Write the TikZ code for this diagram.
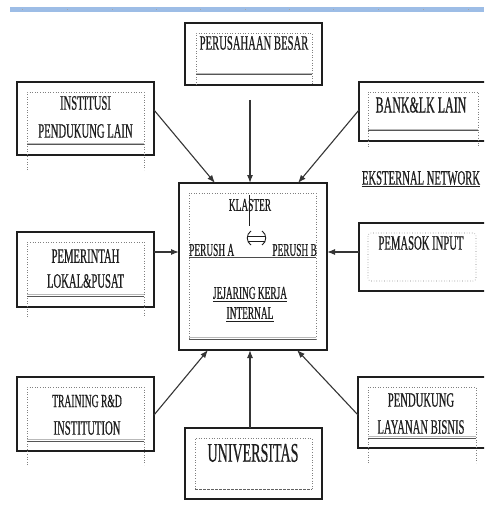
\documentclass[tikz,border=0pt]{standalone}
\usepackage{fontspec}
\setmainfont{Liberation Serif}
\newfontfamily\cf[FakeStretch=0.52,FakeBold=0.5]{Liberation Serif}
\usetikzlibrary{arrows.meta,calc}
\definecolor{ink}{HTML}{1E1E1E}
\definecolor{bar}{HTML}{9DBDE6}
\newcommand\ibox[5]{%
  \draw[dots] (#1,#5) -- (#1,#2) -- (#3,#2) -- (#3,#5);
  \draw[gray!55, line width=0.6pt] ({#1},{#4-2}) -- ({#3},{#4-2});
  \draw[ink!75, line width=1pt] (#1,#4) -- (#3,#4);
}
\begin{document}
\begin{tikzpicture}[x=1pt,y=-1pt,
  outer/.style={draw=ink, line width=1.5pt, fill=white, inner sep=0, rectangle},
  dots/.style={draw=gray, dotted, line width=0.6pt},
  conn/.style={draw=ink!90, line width=1.1pt, -{Latex[length=8pt,width=6pt]}},
  lbl/.style={inner sep=0, text=ink, font=\cf\fontsize{20.5}{20.5}\selectfont},
  lblc/.style={lbl, font=\cf\fontsize{18}{18}\selectfont},
]
\useasboundingbox (0,0) rectangle (484,505);
\clip (0,0) rectangle (484,505);

% top bar
\fill[bar] (10,7) rectangle (484,12);
\foreach \t in {22,67,112,156,200,245,289,333,378,423,468}
  \fill[gray!70] (\t,9) rectangle ++(1,1.5);

% boxes
\node[outer, minimum width=137pt, minimum height=62pt] (pb) at (253.5,54) {};
\ibox{196}{33}{312}{75}{85}
\node[lbl] (tpb) at (254,43) {PERUSAHAAN BESAR};

\node[outer, minimum width=137pt, minimum height=73pt] (ins) at (85.5,118.5) {};
\ibox{27}{92}{144}{145}{170}
\node[lbl] (tins1) at (85.5,103) {INSTITUSI};
\node[lbl] (tins2) at (85.5,131) {PENDUKUNG LAIN};

\node[outer, minimum width=131pt, minimum height=59pt] (bank) at (424.5,111.5) {};
\ibox{368}{92}{478}{131}{147}
\node[lbl, font=\cf\fontsize{23}{23}\selectfont] (tbank) at (421,105) {BANK\&LK LAIN};

\node[lbl] (ek) at (421,178) {EKSTERNAL NETWORK};
\draw[ink, line width=0.8pt] ([yshift=-2pt]ek.base west) -- ([yshift=-2pt]ek.base east);

% center
\node[outer, minimum width=148pt, minimum height=167pt] (center) at (253,266.5) {};
\ibox{189}{193}{316}{339}{339}
\node[lblc] (klaster) at (250,205) {KLASTER};
\draw[ink, line width=1pt] (249,195) -- (249,226);
\draw[ink, line width=0.9pt] (251,231) .. controls (246,234) and (246,242) .. (251,245);
\draw[ink, line width=0.9pt] (262,231) .. controls (267,234) and (267,242) .. (262,245);
\draw[ink, line width=0.8pt] (248,236.5) -- (265,236.5) (248,241.5) -- (265,241.5);
\node[lblc, anchor=west] (pa) at (189,250) {PERUSH A};
\node[lblc, anchor=east] (pbb) at (317,250) {PERUSH B};
\draw[ink!80, line width=1pt] (189,257) -- (316,257);
\node[lblc] (jk) at (250,293) {JEJARING KERJA};
\draw[ink, line width=0.8pt] ([yshift=-2.5pt]jk.base west) -- ([yshift=-2.5pt]jk.base east);
\node[lblc] (inl) at (250,313) {INTERNAL};
\draw[ink, line width=0.8pt] ([yshift=-2.5pt]inl.base west) -- ([yshift=-2.5pt]inl.base east);

\node[outer, minimum width=137pt, minimum height=75pt] (pem) at (85.5,269.5) {};
\ibox{27}{242}{144}{296}{317}
\node[lbl] (tpem1) at (85.5,256) {PEMERINTAH};
\node[lbl] (tpem2) at (85.5,281) {LOKAL\&PUSAT};

\node[outer, minimum width=131pt, minimum height=68pt] (pemasok) at (424.5,257) {};
\draw[dots, rounded corners=3pt] (368,233) rectangle (476,281);
\node[lbl] (tpemasok) at (421,243) {PEMASOK INPUT};

\node[outer, minimum width=137pt, minimum height=74pt] (tr) at (85.5,414) {};
\ibox{27}{387}{144}{441}{465}
\node[lbl, font=\cf\fontsize{18.5}{18.5}\selectfont] (ttr1) at (87,401) {TRAINING R\&D};
\node[lbl] (ttr2) at (87,428) {INSTITUTION};

\node[outer, minimum width=137pt, minimum height=71pt] (univ) at (253.5,463.5) {};
\draw[dots] (195,489) -- (195,438) -- (312,438) -- (312,489);
\draw[ink!70, line width=0.9pt, dash pattern=on 3pt off 1pt] (195,489) -- (312,489);
\node[lbl, font=\cf\fontsize{27}{27}\selectfont] (tuniv) at (253,453) {UNIVERSITAS};

\node[outer, minimum width=132pt, minimum height=71pt] (pend) at (424,412.5) {};
\ibox{368}{387}{476}{438}{463}
\node[lbl] (tpend1) at (421,400) {PENDUKUNG};
\node[lbl] (tpend2) at (421,427) {LAYANAN BISNIS};

% connector ends
\coordinate (s1) at (154,110);  \coordinate (e1) at (215,183);
\coordinate (s2) at (250,100);  \coordinate (e2) at (250,183);
\coordinate (s3) at (359,110);  \coordinate (e3) at (298,183);
\coordinate (s4) at (154,252);  \coordinate (e4) at (179,252);
\coordinate (s5) at (359,252);  \coordinate (e5) at (327,252);
\coordinate (s6) at (154,415);  \coordinate (e6) at (208,350);
\coordinate (s7) at (250,428);  \coordinate (e7) at (250,350);
\coordinate (s8) at (358,415);  \coordinate (e8) at (297,350);
\foreach \i in {1,...,8} \draw[conn] (s\i) -- (e\i);
\end{tikzpicture}
\end{document}
